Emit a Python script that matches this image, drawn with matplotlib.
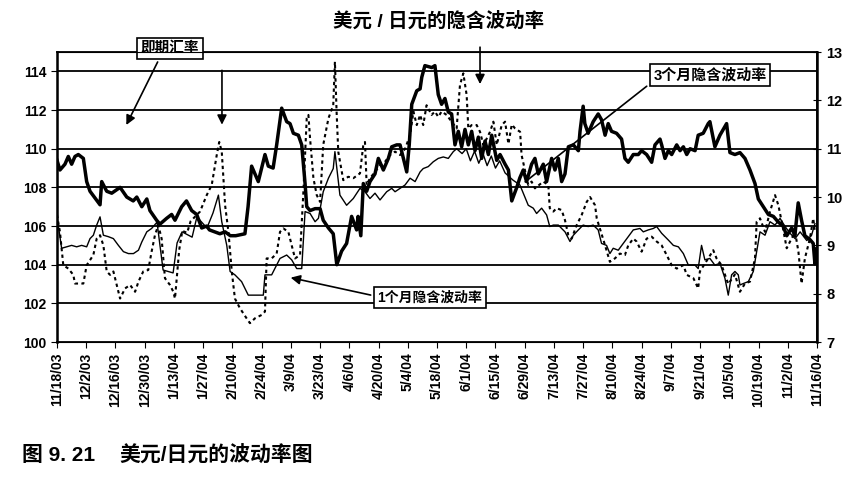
import matplotlib
matplotlib.use("Agg")
import matplotlib.pyplot as plt

plt.rcParams['font.family'] = ['Liberation Sans', 'Noto Sans CJK SC', 'DejaVu Sans']

# days counted from 11/18/03
spot_days = [0, 1.4, 3.8, 5.4, 7, 8.6, 10.2, 12.6, 14.2, 15.8, 20.6, 21.4, 23.8, 26.2,
             30.2, 33.4, 36.5, 38.2, 40.6, 43, 44.5, 47.7, 49.3, 52.5, 54.9, 56.5, 59.7,
             62, 64.5, 66.9, 69.3, 71.7, 73, 78, 80.5, 83, 85.6, 90, 91.5, 93.2, 96.4,
             99.6, 101.2, 103.5, 105.2, 107.6, 110, 111.6, 113.2, 115.6, 117.2, 118.8,
             119.6, 121.2, 123.6, 126, 127.5, 130, 132.3, 134, 136.3, 138.7, 141.1,
             143.5, 144.2, 145.5, 146.7, 148.3, 149.9, 152.3, 153.9, 156.3, 158.7,
             160.3, 162.7, 164.3, 165.9, 167.5, 168.7, 169.9, 172.3, 173.9, 174.7,
             176.2, 179.5, 181, 182.6, 184.2, 185.8, 187.4, 189, 190.6, 192.2, 193.8,
             195.4, 197, 198.6, 200.2, 201.8, 203.4, 205, 206.6, 208.2, 210.6, 212.2,
             214.6, 216.2, 217.8, 220.2, 221.7, 223.3, 224.9, 227.3, 228.9, 230.5,
             232.9, 234.5, 236.9, 238.5, 240.1, 241.7, 243.3, 244.9, 247.3, 249.7,
             250.5, 252, 252.8, 254.4, 256.8, 259.2, 260.8, 262.5, 264, 265.6, 268,
             270.4, 272, 273.6, 276, 278.4, 280, 282.4, 284.8, 286.4, 288.8, 289.6,
             291.2, 292.8, 294.4, 296.8, 298.4, 300, 301.6, 303.2, 305.6, 307.1, 309.5,
             311.9, 312.7, 315.1, 317.5, 320.7, 322.3, 324.7, 327.1, 329.5, 331.9,
             334.3, 335.9, 338.3, 340.7, 343.1, 345.5, 347.8, 349.5, 351.9, 353.4, 355,
             356.6, 358.2, 360.6, 362.2, 363, 363.8]
spot = [109.4, 108.9, 109.2, 109.6, 109.2, 109.6, 109.7, 109.5, 108.3, 107.8, 107.1, 108.3,
        107.8, 107.7, 108.0, 107.5, 107.3, 107.5, 107.0, 107.4, 106.8, 106.3, 106.1,
        106.4, 106.6, 106.3, 107.0, 107.3, 106.8, 106.6, 105.9, 106.0, 105.8, 105.6,
        105.7, 105.5, 105.5, 105.6, 107.0, 109.1, 108.3, 109.7, 109.1, 109.0, 110.2,
        112.1, 111.4, 111.3, 110.8, 110.7, 110.2, 108.2, 107.0, 106.8, 106.9, 106.9,
        106.3, 105.9, 105.6, 104.0, 104.7, 105.1, 106.5, 105.8, 106.5, 105.5, 108.2,
        107.8, 108.3, 108.7, 109.5, 108.9, 109.5, 110.1, 110.2, 110.2, 109.5, 108.8,
        110.2, 112.3, 113.0, 113.1, 113.7, 114.3, 114.2, 114.3, 112.8, 112.3, 112.6,
        111.9, 111.8, 110.2, 110.9, 110.1, 111.0, 110.2, 110.9, 109.9, 110.6, 109.5,
        110.4, 109.7, 110.7, 109.4, 109.7, 109.2, 108.9, 107.3, 108.0, 108.5, 108.9,
        108.3, 109.2, 109.5, 108.7, 109.2, 108.3, 109.5, 108.9, 109.5, 108.3, 108.7,
        110.1, 110.2, 109.9, 110.9, 112.2, 111.3, 110.8, 111.4, 111.8, 111.5, 110.7,
        111.3, 110.9, 110.8, 110.5, 109.5, 109.3, 109.7, 109.7, 109.9, 109.7, 109.3,
        110.2, 110.5, 110.2, 109.5, 109.9, 109.7, 110.2, 109.9, 110.1, 109.7, 110.0,
        109.9, 110.7, 110.8, 111.3, 111.4, 110.1, 110.7, 111.3, 109.8, 109.7, 109.8,
        109.5, 108.9, 108.2, 107.4, 107.0, 106.6, 106.5, 106.2, 106.0, 105.5, 105.9,
        105.5, 107.2, 106.3, 105.5, 105.3, 105.1, 104.05, 104.8]

vol3m_days = [0, 0.3, 2.2, 4.6, 7, 9.4, 11.8, 14.2, 15.8, 17.4, 19, 20.6, 22.2, 24.6, 27,
              29.4, 31.8, 34.2, 36.6, 39, 40.6, 43, 45.3, 47.9, 50.8, 55.6, 57.5, 59.9,
              64.7, 67, 71.8, 74.7, 77.3, 78.9, 81.3, 82.9, 85.2, 88.4, 91.6, 98.8, 99.6,
              102.8, 106.8, 110, 112.4, 114.8, 117.2, 118.8, 121.2, 123.6, 125.2, 127.5,
              130, 132.3, 133.1, 135.5, 138.7, 141.9, 145.1, 147.5, 149.9, 152.3, 154.7,
              157.9, 160.3, 161.9, 164.3, 166.7, 169.1, 171.5, 173.9, 175.4, 177.8, 180.2,
              182.6, 185, 187.4, 189.8, 191.4, 194, 196, 198, 200, 202, 204, 206, 208,
              210, 212, 214.6, 218.4, 221.7, 225.7, 228.1, 229.7, 232.1, 234.5, 236,
              237.7, 240.1, 243.3, 245.7, 247.3, 249.7, 252, 254.4, 256.8, 259.2, 260.8,
              263.2, 264.8, 266.4, 268.8, 271.2, 273.6, 276, 279.2, 280.8, 283.2, 285.6,
              287.2, 289.6, 292.8, 295.2, 297.6, 300, 302.4, 305.6, 307.1, 308.7, 310.3,
              312.7, 315.1, 317.5, 319.9, 321.5, 323.1, 324.7, 326.3, 327.1, 328.7, 331.1,
              333.5, 335.1, 336.7, 339.1, 341.5, 343.9, 346.3, 348.7, 351.1, 353.5, 355.9,
              359.1, 361.4, 363]
vol3m = [9.6, 9.5, 8.94, 8.97, 9.0, 8.97, 9.0, 8.97, 9.14, 9.21, 9.42, 9.59, 9.21, 9.18,
         9.14, 9.0, 8.87, 8.83, 8.83, 8.9, 9.07, 9.28, 9.35, 9.48, 8.49, 8.43, 9.05, 9.28,
         9.17, 9.59, 9.36, 9.67, 10.04, 9.49, 9.0, 8.46, 8.39, 8.25, 7.97, 7.97, 8.39,
         8.39, 8.73, 8.8, 8.7, 8.52, 8.52, 9.7, 9.66, 9.49, 9.56, 10.11, 10.39, 10.59,
         10.94, 10.04, 9.83, 9.97, 10.18, 10.11, 9.97, 10.08, 9.94, 10.11, 10.18, 10.11,
         10.18, 10.25, 10.39, 10.32, 10.52, 10.59, 10.63, 10.73, 10.8, 10.83, 10.8, 10.94,
         11.0, 10.9, 11.0, 10.75, 10.95, 10.7, 10.9, 10.65, 10.85, 10.6, 10.75, 10.5,
         10.35, 10.25, 9.83, 9.77, 9.66, 9.77, 9.63, 9.39, 9.42, 9.42, 9.28, 9.08, 9.21,
         9.32, 9.42, 9.39, 9.42, 9.32, 9.04, 9.0, 8.83, 8.94, 8.9, 9.04, 9.18, 9.32, 9.35,
         9.28, 9.32, 9.35, 9.39, 9.25, 9.11, 9.0, 8.97, 8.83, 8.59, 8.59, 8.52, 9.0, 8.7,
         8.73, 8.59, 8.63, 8.32, 7.97, 8.39, 8.46, 8.39, 8.18, 8.21, 8.25, 8.46, 8.87,
         9.28, 9.21, 9.49, 9.42, 9.56, 9.39, 9.25, 9.14, 9.28, 9.1, 9.21, 9.45]

vol1m_days = [0, 1.4, 3, 5.4, 7.8, 8.6, 11, 12.6, 14.2, 17.4, 19, 20.6, 22.2, 23.8, 25.4,
              27, 28.6, 30.2, 32.6, 35, 37.4, 39, 41.3, 43.7, 45.3, 46.9, 48.5, 50.1, 51.7,
              54.1, 55.7, 56.5, 58.5, 60, 62.3, 64, 68.5, 71.7, 74.1, 76.5, 77.7, 78.9,
              80.5, 82.1, 83.7, 85.2, 87.6, 90.8, 92.4, 94.8, 98, 99.6, 100.4, 102.8,
              105.2, 106.8, 108.4, 110.8, 112.4, 114, 116.4, 118, 119.6, 120.4, 121.2,
              122.8, 124.4, 126, 127.5, 130, 132.3, 133.1, 133.9, 134.7, 137.1, 139.5,
              141.9, 145.1, 146.7, 147.5, 148.3, 149.9, 152.3, 154.7, 157.1, 159.5, 161.9,
              164.3, 166.7, 169.1, 170.7, 172.3, 173.9, 175.4, 177, 179.4, 181, 182.6,
              184.2, 186.6, 189, 191.4, 193, 194.6, 196.2, 197, 198.6, 201, 202.6, 204.2,
              205.8, 207.4, 209, 210.6, 213, 214.6, 216.2, 217.8, 219.4, 221.8, 222.5,
              225.7, 227.3, 228.9, 232.9, 235.3, 236, 237.7, 239.3, 241.7, 243.3, 244.9,
              246.5, 248.9, 251.3, 253.7, 255.3, 257.7, 258.5, 262.5, 264.8, 267.2, 269.6,
              272, 273.6, 276, 277.6, 280, 282.4, 284.8, 287.2, 289.6, 292, 294.4, 296.8,
              300, 301.6, 304.8, 307.1, 307.9, 311.9, 314.3, 315.9, 318.3, 321.5, 324.7,
              327.1, 329.5, 331.9, 334.3, 335.1, 336.7, 339.1, 341.5, 343.9, 345.5, 347.1,
              349.5, 351.1, 353.5, 355.1, 356.6, 358.2, 360.6, 362.2, 363]
vol1m = [9.63, 9.28, 8.59, 8.52, 8.39, 8.21, 8.21, 8.21, 8.59, 8.8, 9.14, 9.21, 9.0, 8.46,
         8.39, 8.46, 8.18, 7.9, 8.11, 8.18, 8.04, 8.25, 8.46, 8.49, 8.87, 9.21, 9.42, 9.14,
         8.32, 8.18, 8.04, 7.9, 8.9, 9.3, 9.26, 9.5, 9.7, 10.04, 10.25, 10.87, 11.14,
         10.94, 9.83, 9.28, 8.46, 7.9, 7.7, 7.49, 7.39, 7.49, 7.56, 7.63, 8.73, 8.73, 8.83,
         9.28, 9.35, 9.28, 9.0, 8.73, 8.8, 10.11, 11.63, 11.7, 11.21, 10.39, 10.04, 9.9,
         11.08, 11.63, 11.9, 12.8, 11.77, 10.94, 10.35, 10.42, 10.39, 10.49, 11.08, 11.14,
         10.25, 10.39, 10.52, 10.66, 10.73, 10.87, 10.94, 10.87, 11.0, 11.28, 11.77, 11.49,
         11.7, 11.49, 11.9, 11.7, 11.77, 11.66, 11.77, 11.7, 11.56, 11.42, 12.32, 12.56,
         12.11, 11.42, 11.49, 11.49, 11.35, 11.08, 11.21, 11.35, 11.56, 11.08, 11.49,
         11.56, 11.1, 11.5, 11.42, 11.35, 10.87, 10.25, 10.32, 10.18, 10.32, 10.25, 9.77,
         9.7, 9.77, 9.73, 9.52, 9.21, 9.14, 9.42, 9.63, 9.9, 10.0, 9.83, 9.56, 9.0, 8.66,
         8.73, 8.83, 8.8, 9.0, 9.14, 9.08, 8.87, 9.14, 9.18, 9.08, 9.0, 8.8, 8.59, 8.52,
         8.59, 8.39, 8.32, 8.11, 8.46, 8.73, 8.9, 8.73, 8.59, 8.2, 8.4, 8.04, 8.21, 8.25,
         8.73, 9.49, 9.56, 9.28, 9.7, 10.04, 9.83, 9.49, 8.94, 9.08, 9.28, 8.87, 8.21,
         8.73, 9.14, 9.56, 9.28]

tick_days = list(range(0, 365, 14))
tick_labels = ['11/18/03', '12/2/03', '12/16/03', '12/30/03', '1/13/04', '1/27/04',
               '2/10/04', '2/24/04', '3/9/04', '3/23/04', '4/6/04', '4/20/04', '5/4/04',
               '5/18/04', '6/1/04', '6/15/04', '6/29/04', '7/13/04', '7/27/04', '8/10/04',
               '8/24/04', '9/7/04', '9/21/04', '10/5/04', '10/19/04', '11/2/04', '11/16/04']

fig = plt.figure(figsize=(8.64, 4.78), dpi=100)
ax = fig.add_axes([0.066, 0.2845, 0.8796, 0.6065])
ax2 = ax.twinx()

ax.plot(spot_days, spot, color='black', linewidth=2.5, zorder=5)
ax2.plot(vol3m_days, vol3m, color='black', linewidth=1.0)
ax2.plot(vol1m_days, vol1m, color='black', linewidth=1.5, linestyle=(0, (1.6, 1.6)))

ax.set_xlim(0, 364)
ax.set_ylim(100, 115)
ax2.set_ylim(7, 13)
ax.set_yticks(range(100, 116, 2))
ax2.set_yticks(range(7, 14))
for v in range(102, 116, 2):
    ax.axhline(v, color='black', linewidth=1.3, zorder=1)

ax.set_xticks(tick_days)
ax.set_xticklabels(tick_labels, rotation=90, fontsize=10, fontweight='bold')
ax.tick_params(axis='y', labelsize=10, direction='out', length=4)
ax.tick_params(axis='x', direction='out', length=4)
ax2.tick_params(axis='y', labelsize=10.5, direction='inout', length=6)
for lab in ax.get_yticklabels() + ax2.get_yticklabels():
    lab.set_fontweight('bold')
for sp in ax.spines.values():
    sp.set_linewidth(1.3)
ax2.spines['right'].set_linewidth(1.8)
ax.spines['left'].set_linewidth(1.8)

box = dict(boxstyle='square,pad=0.25', facecolor='white', edgecolor='black', linewidth=1.2)
arrow = dict(arrowstyle='-|>', color='black', linewidth=1.2, mutation_scale=14)

ax.annotate('即期汇率', xy=(32.6, 111.1), xytext=(54, 115.2), fontsize=10.5, fontweight='bold',
            ha='center', va='center', bbox=box, annotation_clip=False, zorder=10,
            arrowprops=dict(arrow, relpos=(0.35, 0)))
ax.annotate('', xy=(79, 111.1), xytext=(79, 114.2), arrowprops=arrow, annotation_clip=False)
ax.annotate('', xy=(202.6, 113.2), xytext=(202.6, 115.4), arrowprops=arrow, annotation_clip=False)
ax.annotate('3个月隐含波动率', xy=(223.2, 108.2), xytext=(312.7, 113.8), fontsize=10.8,
            fontweight='bold', ha='center', va='center', bbox=box, zorder=10,
            arrowprops=dict(arrowstyle='-', color='black', linewidth=1.2, relpos=(0, 0.1)))
ax.annotate('1个月隐含波动率', xy=(110.6, 103.36), xytext=(178.6, 102.28), fontsize=10,
            fontweight='bold', ha='center', va='center', bbox=box, zorder=10,
            arrowprops=dict(arrow, relpos=(0, 0.6)))

fig.text(0.508, 0.955, '美元 / 日元的隐含波动率', ha='center', va='center', fontsize=14,
         fontweight='bold')
fig.text(0.025, 0.048, '图 9. 21', ha='left', va='center', fontsize=15, fontweight='bold')
fig.text(0.138, 0.048, '美元/日元的波动率图', ha='left', va='center', fontsize=15,
         fontweight='bold')

fig.savefig('out.png', dpi=100)
